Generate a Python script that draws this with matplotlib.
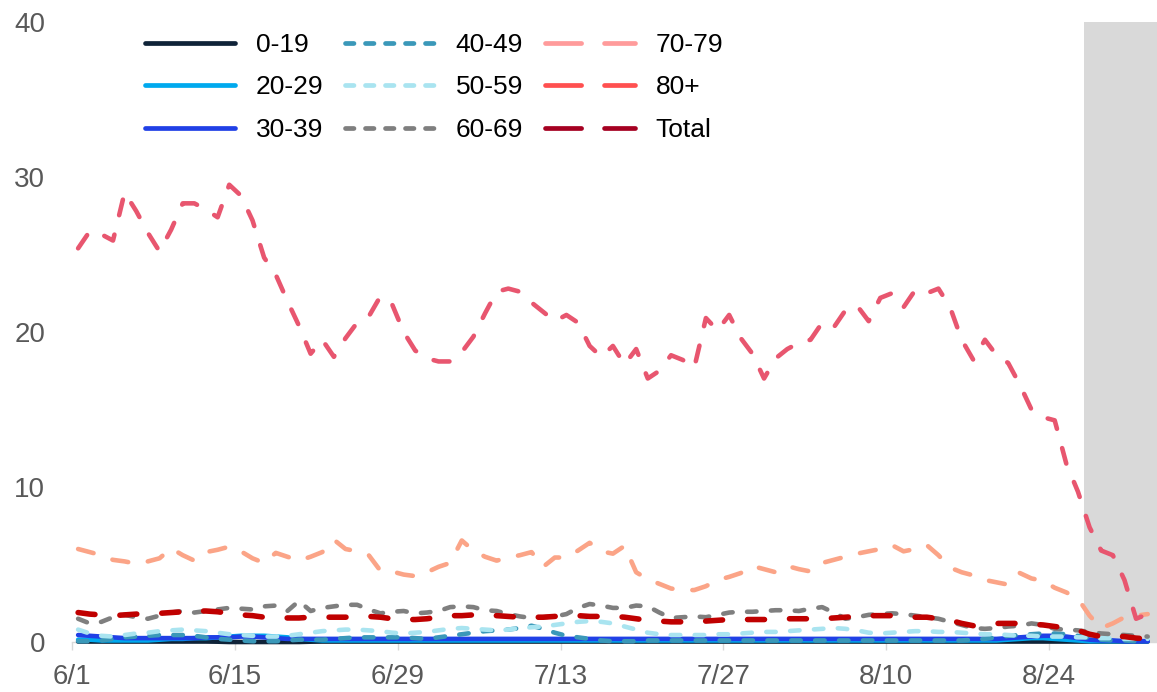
import matplotlib
matplotlib.use("Agg")
import matplotlib.pyplot as plt
from matplotlib.lines import Line2D
import numpy as np

plt.rcParams['font.family'] = ['Liberation Sans', 'DejaVu Sans']
plt.rcParams['lines.scale_dashes'] = False

# --- data: daily values from 6/1 to 9/1 ---
tick_labels = ['6/1', '6/15', '6/29', '7/13', '7/27', '8/10', '8/24']
shade_start = 87  # 8/27 onwards is shaded

age_0_19 = [0.03] * 12 + [0.02, 0.0, 0.0, 0.0, 0.0, 0.0, 0.0, 0.0, 0.02] + [0.03] * 72

age_20_29 = [0.15, 0.15, 0.1, 0.1, 0.1, 0.1, 0.1, 0.15, 0.2, 0.2,
             0.25, 0.25, 0.3, 0.35, 0.4, 0.4, 0.4, 0.35, 0.3, 0.2,
             0.15, 0.1, 0.1, 0.1, 0.1, 0.1, 0.1, 0.1, 0.1, 0.1,
             0.1, 0.1, 0.1, 0.1, 0.1, 0.1, 0.1, 0.1, 0.1, 0.1,
             0.1, 0.1, 0.1, 0.1, 0.1, 0.1, 0.1, 0.1, 0.1, 0.1,
             0.1, 0.1, 0.1, 0.1, 0.1, 0.1, 0.1, 0.1, 0.1, 0.1,
             0.1, 0.1, 0.1, 0.1, 0.1, 0.1, 0.1, 0.1, 0.1, 0.1,
             0.1, 0.1, 0.1, 0.1, 0.1, 0.1, 0.1, 0.1, 0.1, 0.1,
             0.15, 0.2, 0.25, 0.25, 0.2, 0.15, 0.1, 0.05, 0.05, 0.05,
             0.05, 0.05, 0.05]

age_30_39 = [0.45, 0.4, 0.35, 0.3, 0.25, 0.25, 0.25, 0.25, 0.25, 0.25,
             0.25, 0.3, 0.3, 0.3, 0.35, 0.35, 0.3, 0.25, 0.2, 0.2,
             0.2, 0.2, 0.2, 0.2, 0.2, 0.2, 0.2, 0.2, 0.2, 0.2,
             0.2, 0.2, 0.2, 0.2, 0.2, 0.2, 0.2, 0.2, 0.2, 0.2,
             0.2, 0.2, 0.2, 0.2, 0.2, 0.2, 0.2, 0.2, 0.2, 0.2,
             0.2, 0.2, 0.2, 0.2, 0.2, 0.2, 0.2, 0.2, 0.2, 0.2,
             0.2, 0.2, 0.2, 0.2, 0.2, 0.2, 0.2, 0.2, 0.2, 0.2,
             0.2, 0.2, 0.2, 0.2, 0.2, 0.2, 0.2, 0.2, 0.2, 0.2,
             0.25, 0.3, 0.35, 0.4, 0.4, 0.35, 0.25, 0.15, 0.1, 0.1,
             0.05, 0.05, 0.05]

age_40_49 = [0.05, 0.05, 0.1, 0.2, 0.3, 0.35, 0.4, 0.45, 0.45, 0.45,
             0.4, 0.3, 0.2, 0.15, 0.1, 0.05, 0.05, 0.05, 0.1, 0.15,
             0.15, 0.15, 0.2, 0.25, 0.3, 0.3, 0.3, 0.3, 0.3, 0.25,
             0.2, 0.3, 0.4, 0.5, 0.6, 0.7, 0.75, 0.8, 0.9, 1.05,
             0.85, 0.6, 0.4, 0.3, 0.2, 0.1, 0.05, 0.05, 0.05, 0.1,
             0.1, 0.1, 0.1, 0.1, 0.1, 0.1, 0.1, 0.1, 0.1, 0.1,
             0.1, 0.1, 0.1, 0.1, 0.1, 0.1, 0.1, 0.1, 0.1, 0.1,
             0.1, 0.1, 0.1, 0.1, 0.1, 0.1, 0.1, 0.15, 0.2, 0.3,
             0.4, 0.45, 0.5, 0.55, 0.55, 0.5, 0.4, 0.25, 0.15, 0.1,
             0.1, 0.05, 0.05]

age_50_59 = [0.8, 0.55, 0.4, 0.35, 0.45, 0.55, 0.6, 0.7, 0.75, 0.8,
             0.75, 0.7, 0.6, 0.5, 0.45, 0.4, 0.35, 0.35, 0.4, 0.5,
             0.6, 0.7, 0.75, 0.8, 0.8, 0.75, 0.7, 0.6, 0.55, 0.6,
             0.65, 0.75, 0.85, 0.9, 0.85, 0.8, 0.75, 0.8, 0.9, 0.95,
             1.0, 1.1, 1.2, 1.3, 1.35, 1.3, 1.2, 1.0, 0.8, 0.6,
             0.5, 0.45, 0.45, 0.45, 0.45, 0.5, 0.5, 0.55, 0.6, 0.65,
             0.65, 0.7, 0.75, 0.8, 0.85, 0.9, 0.85, 0.75, 0.6, 0.55,
             0.6, 0.65, 0.7, 0.7, 0.65, 0.65, 0.6, 0.55, 0.5, 0.5,
             0.45, 0.4, 0.4, 0.35, 0.35, 0.35, 0.3, 0.3, 0.25, 0.25,
             0.2, 0.2, 0.2]

age_60_69 = [1.5, 1.2, 1.3, 1.6, 1.75, 1.6, 1.5, 1.7, 1.9, 2.0,
             1.9, 2.0, 2.1, 2.2, 2.15, 2.1, 2.3, 2.35, 2.0, 2.65,
             2.0, 2.2, 2.3, 2.4, 2.4, 2.1, 1.85, 1.95, 2.0, 1.85,
             1.9, 2.0, 2.25, 2.3, 2.25, 2.05, 2.0, 1.8, 1.65, 1.55,
             1.6, 1.65, 1.8, 2.2, 2.45, 2.35, 2.2, 2.2, 2.35, 2.3,
             1.9, 1.55, 1.6, 1.65, 1.6, 1.75, 1.9, 1.95, 1.95, 2.0,
             2.05, 2.05, 2.0, 2.15, 2.25, 1.9, 1.5, 1.6, 1.75, 1.8,
             1.85, 1.8, 1.7, 1.6, 1.5, 1.3, 1.1, 0.9, 0.85, 0.9,
             1.0, 1.05, 1.2, 1.1, 0.85, 0.8, 0.75, 0.65, 0.55, 0.5,
             0.45, 0.4, 0.35]

age_70_79 = [6.0, 5.8, 5.6, 5.3, 5.2, 5.05, 5.2, 5.4, 6.05, 5.6,
             5.25, 5.8, 5.95, 6.15, 5.85, 5.4, 5.1, 5.75, 5.5, 5.25,
             5.5, 5.8, 6.6, 6.0, 5.85, 5.6, 4.6, 4.55, 4.35, 4.25,
             4.5, 4.85, 5.1, 6.55, 5.9, 5.5, 5.25, 5.45, 5.6, 5.8,
             4.85, 5.45, 5.45, 5.9, 6.4, 5.85, 5.7, 6.2, 4.5, 4.05,
             3.75, 3.45, 3.35, 3.35, 3.6, 4.0, 4.2, 4.45, 4.9, 4.7,
             4.5, 4.9, 4.7, 4.55, 5.1, 5.3, 5.5, 5.7, 5.85, 6.0,
             6.25, 5.85, 6.0, 6.25, 5.6, 4.8, 4.5, 4.3, 4.0, 3.85,
             3.7, 4.45, 4.1, 3.95, 3.5, 3.2, 2.8, 1.7, 0.9, 1.2,
             1.6, 1.7, 1.8]

age_80_plus = [25.4, 26.5, 26.3, 25.9, 29.0, 27.8, 26.4, 25.2, 26.6, 28.3,
               28.3, 27.9, 27.4, 29.5, 28.8, 27.2, 24.8, 23.7, 22.0, 20.4,
               18.6, 19.5, 18.4, 19.6, 20.6, 21.0, 22.3, 21.8, 20.0, 18.8,
               18.3, 18.1, 18.1, 18.7, 19.7, 21.2, 22.6, 22.8, 22.6, 21.9,
               21.3, 20.7, 21.1, 20.6, 19.1, 18.4, 19.1, 17.9, 18.9, 17.0,
               17.5, 18.5, 18.2, 17.7, 20.9, 20.1, 21.1, 19.6, 18.6, 17.0,
               18.3, 18.9, 19.3, 19.5, 20.6, 20.3, 21.4, 21.7, 20.7, 22.2,
               22.5, 21.6, 22.7, 22.5, 22.8, 21.6, 19.5, 18.2, 19.5, 18.5,
               18.0, 16.6, 15.0, 14.5, 14.3, 11.5, 9.7, 7.4, 5.9, 5.6,
               4.0, 1.5, 1.8]

total = [1.9, 1.8, 1.75, 1.7, 1.75, 1.8, 1.85, 1.85, 1.9, 1.95,
         2.0, 2.0, 1.95, 1.85, 1.75, 1.7, 1.6, 1.55, 1.55, 1.55,
         1.6, 1.6, 1.6, 1.6, 1.65, 1.65, 1.6, 1.5, 1.45, 1.45,
         1.5, 1.6, 1.7, 1.7, 1.75, 1.75, 1.7, 1.65, 1.6, 1.6,
         1.6, 1.65, 1.7, 1.7, 1.65, 1.65, 1.65, 1.6, 1.5, 1.4,
         1.35, 1.3, 1.3, 1.3, 1.35, 1.4, 1.45, 1.45, 1.45, 1.45,
         1.45, 1.5, 1.5, 1.5, 1.5, 1.55, 1.6, 1.65, 1.7, 1.7,
         1.7, 1.65, 1.6, 1.6, 1.5, 1.4, 1.2, 1.05, 1.15, 1.2,
         1.2, 1.2, 1.15, 1.1, 1.0, 0.9, 0.75, 0.5, 0.35, 0.35,
         0.35, 0.25, 0.2]

labels = ['0-19', '20-29', '30-39', '40-49', '50-59', '60-69', '70-79', '80+', 'Total']
series = [age_0_19, age_20_29, age_30_39, age_40_49, age_50_59, age_60_69,
          age_70_79, age_80_plus, total]

# colours in the plot, and the (slightly different) colours shown in the legend
line_colors = ['#0F2338', '#00A9EE', '#2040E6', '#3A98B9', '#A9E4F0', '#7F7F7F',
               '#FBA487', '#E8566F', '#C00000']
legend_colors = ['#0F2338', '#00A9EE', '#2040E6', '#3A98B9', '#A9E4F0', '#7F7F7F',
                 '#FF9B9B', '#FF5050', '#A50021']

solid = None
short_dash = (0, (6.8, 10.4))
long_dash = (0, (11.5, 14.4))
total_dash = (0, (12.2, 18.0))
line_dashes = [solid, solid, solid, short_dash, short_dash, short_dash,
               long_dash, long_dash, total_dash]
line_widths = [3.3, 3.3, 3.3, 3.3, 3.3, 3.3, 3.3, 3.3, 4.0]

leg_short = (0, (6.1, 8.3))
leg_long = (0, (26.0, 16.5))
legend_dashes = [solid, solid, solid, leg_short, leg_short, leg_short,
                 leg_long, leg_long, leg_long]

W, H = 1157, 692
fig = plt.figure(figsize=(W / 100, H / 100), dpi=100)
x0 = 72.3
ax = fig.add_axes([x0 / W, 50 / H, (W - x0) / W, 620 / H])

n = len(total)
x = np.arange(n) + 0.5
ax.set_xlim(0, 93.3)
ax.set_ylim(0, 40)

ax.axvspan(shade_start, 93.3, color='#D9D9D9', lw=0, zorder=0)

for vals, col, ds, lw in zip(series, line_colors, line_dashes, line_widths):
    kw = dict(color=col, lw=lw, solid_capstyle='round', dash_capstyle='round',
              solid_joinstyle='round', clip_on=False, zorder=3)
    if ds is not None:
        kw['linestyle'] = ds
    ax.plot(x, vals, **kw)

ax.set_xticks(np.arange(0, 85, 14))
ax.set_xticklabels(tick_labels)
ax.set_yticks([0, 10, 20, 30, 40])

for s in ['top', 'right', 'left']:
    ax.spines[s].set_visible(False)
ax.spines['bottom'].set_color('#D9D9D9')
ax.spines['bottom'].set_linewidth(1)
ax.spines['bottom'].set_zorder(1)

ax.tick_params(axis='x', length=6, width=1, color='#D9D9D9', labelcolor='#595959',
               labelsize=20, pad=10)
ax.tick_params(axis='y', length=0, labelcolor='#595959', labelsize=20, pad=19.5)

handles = []
for col, ds in zip(legend_colors, legend_dashes):
    kw = dict(color=col, lw=3.4, solid_capstyle='round', dash_capstyle='round')
    if ds is not None:
        kw['linestyle'] = ds
    handles.append(Line2D([], [], **kw))

fig.legend(handles, labels, ncol=3, frameon=False, fontsize=19,
           loc='upper left', bbox_to_anchor=(145 / W, (H - 33) / H),
           handlelength=3.42, handletextpad=0.77, columnspacing=0.83,
           labelspacing=0.7, borderpad=0, borderaxespad=0)

fig.savefig('out.png', dpi=100)
